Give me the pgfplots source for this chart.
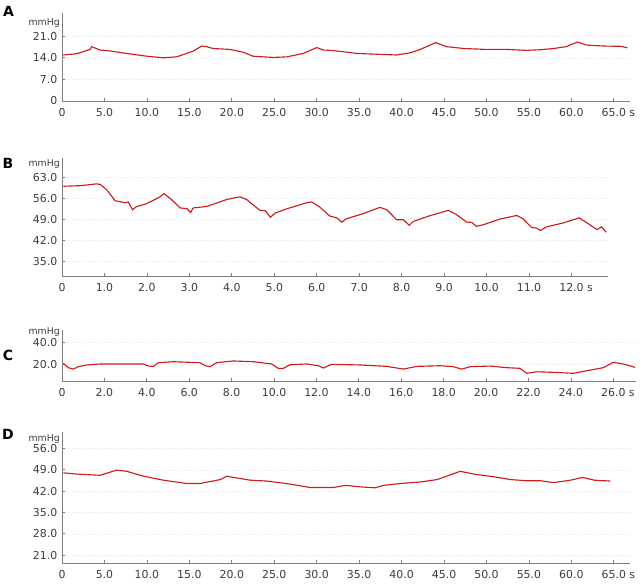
\documentclass[border=0pt]{standalone}
\usepackage{fontspec}
\setmainfont{DejaVu Sans}
\usepackage{pgfplots}
\pgfplotsset{compat=1.18}
\definecolor{tracered}{RGB}{205,28,28}
\definecolor{axisgray}{RGB}{128,128,128}
\definecolor{labgray}{RGB}{60,60,60}
\pgfplotsset{
  panel/.style={
    scale only axis, anchor=south west, clip=false,
    axis x line=bottom, axis y line=left,
    axis line style={-, axisgray, line width=0.6pt},
    tick style={axisgray, line width=0.6pt},
    tick align=inside, major tick length=2.5pt,
    tick label style={font=\fontsize{8.2}{10}\selectfont, text=labgray},
    x tick label style={yshift=-1.8pt},
    ymajorgrids, grid style={gray!22, dotted},
    xmin=0,
  },
  sig/.style={tracered, line width=0.85pt, no marks},
}
\tikzset{
  unit/.style={anchor=east, font=\fontsize{7}{8}\selectfont, text=labgray, inner sep=0pt, xshift=-1.5pt},
  plab/.style={font=\fontsize{10.5}{12}\selectfont\bfseries, inner sep=0pt},
}
\begin{document}
\begin{tikzpicture}
\useasboundingbox (0,0) rectangle (482.25pt,-438pt);
\node[plab] at (6.5pt,-8.4pt) {A};
\node[plab] at (6pt,-122.6pt) {B};
\node[plab] at (6pt,-266.2pt) {C};
\node[plab] at (6pt,-325.8pt) {D};

% A
\begin{axis}[panel, at={(46.5pt,-75.75pt)}, width=426pt, height=66pt,
  xmax=66.9, ymin=0, ymax=28.5,
  xtick={0,5,...,65},
  xticklabels={0,5.0,10.0,15.0,20.0,25.0,30.0,35.0,40.0,45.0,50.0,55.0,60.0,65.0\rlap{ s}},
  ytick={0,7,14,21}, yticklabels={0,7.0,14.0,21.0}]
\addplot[sig] coordinates {
(0.15,14.9) (1.73,15.3) (3.3,16.7) (3.5,17.6) (4.5,16.5) (5.65,16.2) (7.6,15.4)
(10.0,14.5) (11.9,14.0) (13.5,14.3) (15.5,16.2) (16.45,17.8) (17.0,17.6) (17.8,17.0)
(19.8,16.7) (21.35,15.8) (22.5,14.5) (24.9,14.1) (26.5,14.3) (28.4,15.4) (30.0,17.3)
(30.8,16.5) (31.6,16.4) (32.7,16.1) (34.7,15.4) (37.5,15.1) (39.4,14.9) (41.0,15.6)
(42.2,16.7) (44.0,18.9) (45.3,17.6) (47.3,17.0) (50.0,16.7) (52.4,16.7) (54.7,16.4)
(56.3,16.6) (57.9,17.0) (59.4,17.6) (60.7,19.1) (61.8,18.1) (63.8,17.8) (65.9,17.7)
(66.6,17.2)
};
\node[unit] at (axis cs:0,25.1) {mmHg};
\end{axis}

% B
\begin{axis}[panel, at={(46.5pt,-207pt)}, width=409.5pt, height=88.3pt,
  xmax=12.86, ymin=30.2, ymax=69.3,
  xtick={0,1,...,12},
  xticklabels={0,1.0,2.0,3.0,4.0,5.0,6.0,7.0,8.0,9.0,10.0,11.0,12.0\rlap{ s}},
  ytick={35,42,49,56,63}, yticklabels={35.0,42.0,49.0,56.0,63.0}]
\addplot[sig] coordinates {
(0.03,60.0) (0.43,60.2) (0.82,60.8) (0.9,60.6) (1.05,58.9) (1.25,55.2) (1.4,54.8)
(1.48,54.5) (1.56,54.8) (1.66,52.2) (1.76,53.3) (1.99,54.2) (2.31,56.5) (2.4,57.6)
(2.58,55.6) (2.78,52.8) (2.94,52.6) (3.03,51.3) (3.09,52.8) (3.41,53.3) (3.88,55.6)
(4.19,56.5) (4.35,55.6) (4.66,52.0) (4.78,51.9) (4.82,51.3) (4.91,49.7) (5.02,51.1)
(5.29,52.5) (5.76,54.5) (5.88,54.8) (6.07,53.1) (6.31,50.1) (6.47,49.5) (6.59,48.1)
(6.7,49.2) (7.09,50.9) (7.49,53.0) (7.65,52.2) (7.88,48.9) (8.04,48.9) (8.18,47.0)
(8.27,48.3) (8.66,50.2) (9.1,52.0) (9.29,50.6) (9.53,48.1) (9.65,48.0) (9.76,46.7)
(9.92,47.2) (10.31,49.1) (10.71,50.3) (10.86,49.2) (11.06,46.3) (11.18,46.1) (11.27,45.3)
(11.41,46.5) (11.8,47.8) (12.18,49.5) (12.35,48.0) (12.6,45.6) (12.71,46.5) (12.82,44.7)
};
\node[unit] at (axis cs:0,67.4) {mmHg};
\end{axis}

% C
\begin{axis}[panel, at={(46.5pt,-285.75pt)}, width=430.5pt, height=38.25pt,
  xmax=27.07, ymin=4.6, ymax=51.7,
  xtick={0,2,...,26},
  xticklabels={0,2.0,4.0,6.0,8.0,10.0,12.0,14.0,16.0,18.0,20.0,22.0,24.0,26.0\rlap{ s}},
  ytick={20,40}, yticklabels={20.0,40.0}]
\addplot[sig] coordinates {
(0.06,20.9) (0.3,16.9) (0.53,15.6) (0.77,17.8) (1.16,19.4) (1.79,20.3) (3.05,20.3)
(3.83,20.3) (4.07,18.4) (4.31,18.1) (4.54,21.5) (5.25,22.4) (6.51,21.5) (6.75,18.7)
(6.98,17.8) (7.3,21.5) (8.08,23.1) (9.02,22.4) (9.89,20.3) (10.2,16.3) (10.44,16.3)
(10.75,19.6) (11.54,20.3) (12.09,18.7) (12.33,16.6) (12.56,18.7) (12.72,20.0)
(14.06,19.4) (15.32,18.1) (16.1,15.6) (16.73,18.1) (17.83,18.7) (18.46,17.8)
(18.85,15.6) (19.25,17.8) (20.19,18.4) (20.98,16.9) (21.6,16.3) (21.92,11.7)
(22.39,13.1) (23.18,12.6) (24.12,11.7) (24.75,14.1) (25.53,16.9) (26.0,21.9)
(26.48,20.3) (27.03,17.2)
};
\node[unit] at (axis cs:0,50.2) {mmHg};
\end{axis}

% D
\begin{axis}[panel, at={(46.5pt,-422.5pt)}, width=426pt, height=98.7pt,
  xmax=66.9, ymin=18.3, ymax=61.5,
  xtick={0,5,...,65},
  xticklabels={0,5.0,10.0,15.0,20.0,25.0,30.0,35.0,40.0,45.0,50.0,55.0,60.0,65.0\rlap{ s}},
  ytick={21,28,35,42,49,56}, yticklabels={21.0,28.0,35.0,42.0,49.0,56.0}]
\addplot[sig] coordinates {
(0.15,48.0) (1.73,47.6) (4.48,47.2) (6.45,48.9) (7.63,48.5) (9.59,46.9) (11.95,45.6)
(14.7,44.5) (16.27,44.5) (18.63,45.8) (19.42,46.9) (20.2,46.5) (22.17,45.6) (24.14,45.3)
(26.9,44.3) (29.24,43.2) (31.97,43.2) (33.4,43.9) (35.1,43.4) (36.9,43.1) (37.9,43.9)
(39.8,44.5) (42.2,45.0) (44.2,45.8) (46.9,48.5) (48.5,47.6) (50.9,46.7) (52.8,45.8)
(54.8,45.4) (56.4,45.4) (57.9,44.8) (59.9,45.6) (61.3,46.5) (62.7,45.6) (64.6,45.3)
};
\node[unit] at (axis cs:0,59) {mmHg};
\end{axis}
\end{tikzpicture}
\end{document}
